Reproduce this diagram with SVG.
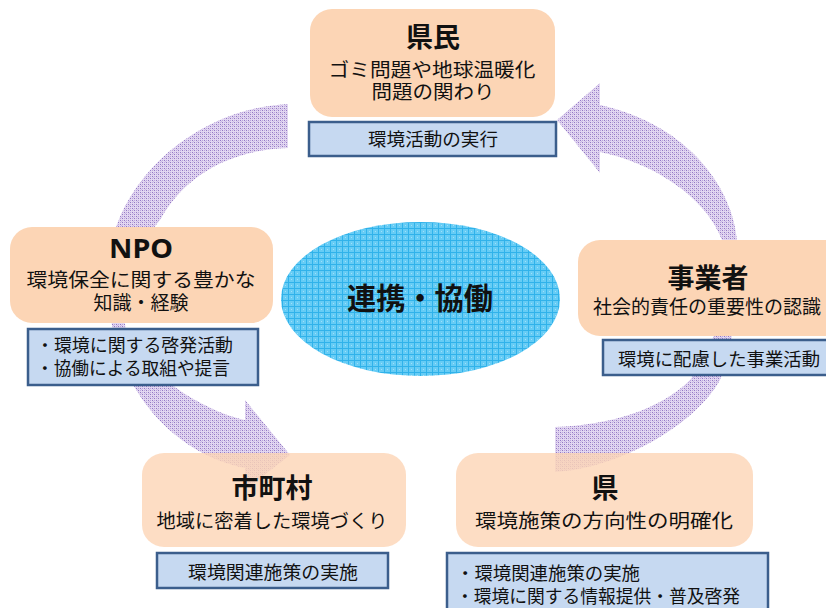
<svg xmlns="http://www.w3.org/2000/svg" width="826" height="608" viewBox="0 0 826 608">
<defs>
<pattern id="pp" width="4" height="4" patternUnits="userSpaceOnUse">
<rect width="4" height="4" fill="#E2D7F1"/>
<rect x="0" y="0" width="1" height="1" fill="#9378C4"/>
<rect x="2" y="2" width="1" height="1" fill="#9378C4"/>
<rect x="2" y="0" width="1" height="1" fill="#BBA5DC"/>
<rect x="0" y="2" width="1" height="1" fill="#BBA5DC"/>
<rect x="1" y="1" width="1" height="1" fill="#CBB9E5"/>
</pattern>
<pattern id="bp" width="6" height="6" patternUnits="userSpaceOnUse">
<rect width="6" height="6" fill="#66CCF5"/>
<rect x="0" y="0" width="6" height="1" fill="#30B2EA"/>
<rect x="0" y="0" width="1" height="6" fill="#30B2EA"/>
<rect x="3" y="3" width="1" height="1" fill="#A0DFF9"/>
</pattern>
</defs>
<style>
.peach{fill:#FCD5B5}
.peachT{fill:#FCD5B5;fill-opacity:0.8}
.blue{fill:#C6D9F1;stroke:#3B5E8C;stroke-width:2.5}
.arrow{fill:url(#pp)}
text{font-family:"Noto Sans CJK JP","Noto Sans",sans-serif;fill:#111}
.title{font-size:27px;font-weight:700;text-anchor:middle}
.sub{font-size:19px;text-anchor:middle}
.lbl{font-size:18px;text-anchor:middle}
.lft{font-size:18px}
</style>
<rect width="826" height="608" fill="#FFFFFF"/>
<g id="connectors">
<path class="arrow" d="M555,472 C620,468 695,425 720,380 C735,345 740,280 737,240 C733,190 690,125 600,105 L600,83 L557,120 L600,173 L600,152 C650,162 705,195 722,240 C728,285 722,340 690,380 C660,410 610,425 555,427 Z"/>
<path class="arrow" d="M288,104 C210,108 140,160 116,227 C106,260 105,295 112,325 C125,400 180,455 245,468 L245,490 L290,455 L245,400 L245,420 C200,410 140,370 126,330 C118,290 135,250 160,220 C185,175 230,150 288,148 Z"/>
</g>
<g id="center">
<ellipse cx="420.5" cy="299" rx="139.5" ry="77" fill="url(#bp)"/>
<text x="420" y="309" font-size="30" font-weight="700" text-anchor="middle" textLength="146" lengthAdjust="spacingAndGlyphs">連携・協働</text>
</g>
<g id="kenmin">
<rect class="peach" x="310" y="9" width="245" height="108" rx="22"/>
<text class="title" x="433" y="47">県民</text>
<text class="sub" x="432" y="77" textLength="207" lengthAdjust="spacingAndGlyphs">ゴミ問題や地球温暖化</text>
<text class="sub" x="433" y="99" textLength="123" lengthAdjust="spacingAndGlyphs">問題の関わり</text>
<rect class="blue" x="309" y="122" width="247" height="34"/>
<text class="lbl" x="433" y="146" textLength="130" lengthAdjust="spacingAndGlyphs">環境活動の実行</text>
</g>
<g id="npo">
<rect class="peach" x="10" y="227" width="263" height="96" rx="22"/>
<text class="title" x="141" y="258" textLength="64" lengthAdjust="spacingAndGlyphs" style="font-family:'Noto Sans',sans-serif">NPO</text>
<text class="sub" x="141" y="287" textLength="229" lengthAdjust="spacingAndGlyphs">環境保全に関する豊かな</text>
<text class="sub" x="141" y="310" textLength="95" lengthAdjust="spacingAndGlyphs">知識・経験</text>
<rect class="blue" x="28" y="329" width="230" height="56"/>
<text class="lft" x="36" y="352" textLength="197" lengthAdjust="spacingAndGlyphs">・環境に関する啓発活動</text>
<text class="lft" x="36" y="375" textLength="194" lengthAdjust="spacingAndGlyphs">・協働による取組や提言</text>
</g>
<g id="jigyosha">
<rect class="peach" x="578" y="240" width="270" height="96" rx="22"/>
<text class="title" x="708" y="288">事業者</text>
<text class="sub" x="707" y="314" textLength="228" lengthAdjust="spacingAndGlyphs">社会的責任の重要性の認識</text>
<rect class="blue" x="603" y="340" width="235" height="35"/>
<text class="lbl" x="719" y="366" textLength="202" lengthAdjust="spacingAndGlyphs">環境に配慮した事業活動</text>
</g>
<g id="shichoson">
<rect class="peachT" x="142" y="453" width="264" height="94" rx="22"/>
<text class="title" x="272" y="498">市町村</text>
<text class="sub" x="272" y="528" textLength="231" lengthAdjust="spacingAndGlyphs">地域に密着した環境づくり</text>
<rect class="blue" x="157" y="553" width="231" height="35"/>
<text class="lbl" x="273" y="579" textLength="170" lengthAdjust="spacingAndGlyphs">環境関連施策の実施</text>
</g>
<g id="ken">
<rect class="peachT" x="456" y="453" width="297" height="94" rx="22"/>
<text class="title" x="605" y="498">県</text>
<text class="sub" x="604" y="528" textLength="258" lengthAdjust="spacingAndGlyphs">環境施策の方向性の明確化</text>
<rect class="blue" x="447" y="553" width="321" height="62"/>
<text class="lft" x="456" y="580" textLength="184" lengthAdjust="spacingAndGlyphs">・環境関連施策の実施</text>
<text class="lft" x="456" y="603" textLength="284" lengthAdjust="spacingAndGlyphs">・環境に関する情報提供・普及啓発</text>
</g>
</svg>
